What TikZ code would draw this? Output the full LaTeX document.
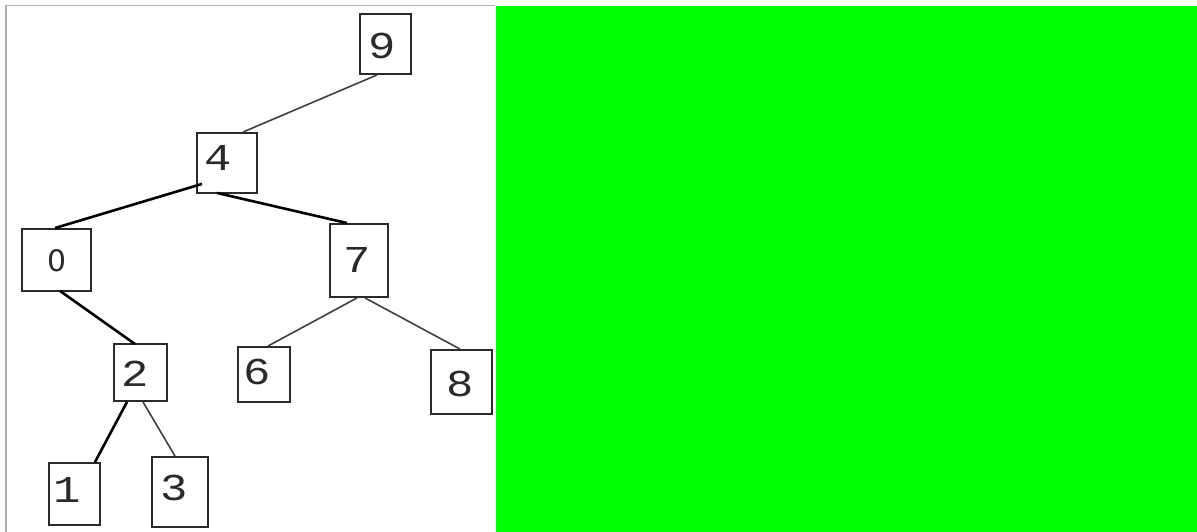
\documentclass[tikz,border=0pt]{standalone}
\usepackage{fontspec}
\newfontfamily\digitfont{Liberation Mono}
\newfontfamily\plainzerofont{DejaVu Sans}
\usetikzlibrary{calc}
\definecolor{framegray}{HTML}{B0B0B0}
\definecolor{boxline}{HTML}{2A2A2A}
\definecolor{thinline}{HTML}{404040}
\definecolor{brightgreen}{HTML}{00FF00}
\begin{document}
\begin{tikzpicture}[x=1pt,y=-1pt,
  box/.style={draw=boxline,line width=1.9pt,inner sep=0pt,minimum width=#1},
  digit/.style={inner sep=0pt,font=\digitfont\fontsize{38}{38}\selectfont,text=boxline},
  thick edge/.style={draw=black,line width=2.6pt},
  thin edge/.style={draw=thinline,line width=1.6pt}]
\useasboundingbox (0,0) rectangle (1197,532);
\fill[white] (0,0) rectangle (1197,532);
% frame and green panel
\fill[brightgreen] (496,6) rectangle (1197,532);
\draw[framegray,line width=1.2pt] (6,532) -- (6,5.5) -- (495,5.5);
% boxes
\node[box=51pt,minimum height=60pt] (n9) at (385.5,44) {};
\node[box=60pt,minimum height=60pt] (n4) at (227,163) {};
\node[box=69pt,minimum height=62pt] (n0) at (56.5,260) {};
\node[box=58pt,minimum height=73pt] (n7) at (359,260.5) {};
\node[box=53pt,minimum height=57pt] (n2) at (140.5,372.5) {};
\node[box=52pt,minimum height=55pt] (n6) at (264,374.5) {};
\node[box=61pt,minimum height=64pt] (n8) at (461.5,382) {};
\node[box=51pt,minimum height=62pt] (n1) at (74.5,494) {};
\node[box=56pt,minimum height=70pt] (n3) at (180,492) {};
% labels
\node[digit] (t9) at (382,46) {\scalebox{1.2}[1]{9}};
\node[digit] (t4) at (218,158) {\scalebox{1.2}[1]{4}};
\node[inner sep=0pt,text=boxline] (t0) at (57,261) {\resizebox{19pt}{22pt}{\plainzerofont\fontsize{10}{10}\selectfont 0}};
\node[digit] (t7) at (357.5,260) {\scalebox{1.2}[1]{7}};
\node[digit] (t2) at (135,374) {\scalebox{1.2}[1]{2}};
\node[digit] (t6) at (257.5,372) {\scalebox{1.2}[1]{6}};
\node[digit] (t8) at (460,384) {\scalebox{1.2}[1]{8}};
\node[digit] (t1) at (67,489.5) {\scalebox{1.2}[1]{1}};
\node[digit] (t3) at (174,487.5) {\scalebox{1.2}[1]{3}};
% edges
\draw[thin edge] ($(n9.south)+(-8.5,0)$) -- ($(n4.north)+(16,0)$);
\draw[thick edge] ($(n4.south)+(-25,-10)$) -- ($(n0.north)+(-1.5,0)$);
\draw[thick edge] ($(n4.south)+(-10,-1)$) -- ($(n7.north)+(-12,0)$);
\draw[thick edge] ($(n0.south)+(3.5,-1)$) -- ($(n2.north)+(-5.5,1)$);
\draw[thin edge] ($(n7.south)+(-2,0)$) -- ($(n6.north)+(4,0)$);
\draw[thin edge] ($(n7.south)+(6,0)$) -- ($(n8.north)+(-1.5,0)$);
\draw[thick edge] ($(n2.south)+(-13.5,0)$) -- ($(n1.north)+(20.5,0)$);
\draw[thin edge] ($(n2.south)+(2.5,0)$) -- ($(n3.north)+(-5,0)$);
\end{tikzpicture}
\end{document}
